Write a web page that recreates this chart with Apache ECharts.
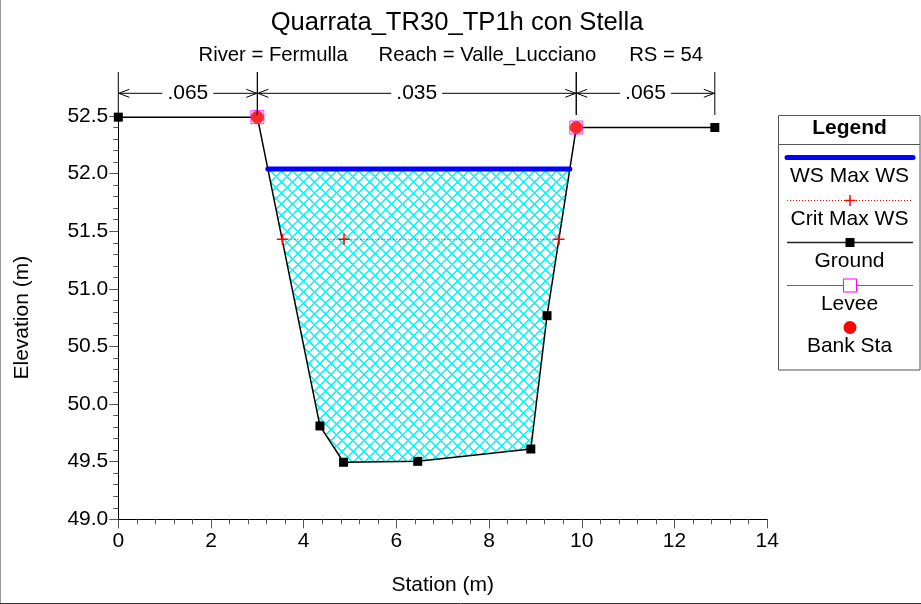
<!DOCTYPE html>
<html>
<head>
<meta charset="utf-8">
<script src="https://cdn.jsdelivr.net/npm/echarts@6/dist/echarts.min.js"></script>
<style>
html,body{margin:0;padding:0;background:#fff;}
#chart{width:921px;height:604px;}
</style>
</head>
<body>
<div id="chart"></div>
<script>
// ---- data ----
const groundStations = [0, 3.0, 4.35, 4.86, 6.46, 8.90, 9.25, 9.88, 12.87];
const groundElev     = [52.49, 52.49, 49.81, 49.495, 49.503, 49.61, 50.767, 52.40, 52.40];
const wsMax = 52.04;
const critMax = 51.43;
const critMarkStations = [3.54, 4.87, 9.51];
const leveeStations = [3.0, 9.88];
const leveeElev = [52.49, 52.40];
const bankStations = [3.0, 9.88];
const bankElev = [52.49, 52.40];
const nStations = [0, 3.0, 9.88, 12.87];
const nValues = ['.065', '.035', '.065'];
const xTicks = [0, 2, 4, 6, 8, 10, 12, 14];
const yTicks = [49.0, 49.5, 50.0, 50.5, 51.0, 51.5, 52.0, 52.5];

const FONT = '"Liberation Sans", Arial, Helvetica, sans-serif';

// crossings of the ground line with a water level
function crossings(level) {
  const xs = [];
  for (let i = 0; i < groundStations.length - 1; i++) {
    const e0 = groundElev[i], e1 = groundElev[i + 1];
    if ((e0 - level) * (e1 - level) < 0) {
      const t = (level - e0) / (e1 - e0);
      xs.push(groundStations[i] + t * (groundStations[i + 1] - groundStations[i]));
    }
  }
  return xs;
}
const wsX = crossings(wsMax);
const wsL = wsX[0], wsR = wsX[wsX.length - 1];
const fillPoly = [[wsL, wsMax]];
groundStations.forEach((s, i) => { if (s > wsL && s < wsR && groundElev[i] < wsMax) fillPoly.push([s, groundElev[i]]); });
fillPoly.push([wsR, wsMax]);

// crisp (aliased) cross-hatch pattern
const P = 11;
const pat = document.createElement('canvas');
pat.width = P; pat.height = P;
(function () {
  const c = pat.getContext('2d');
  const img = c.createImageData(P, P);
  for (let y = 0; y < P; y++) {
    for (let x = 0; x < P; x++) {
      const d1 = (x + y) % P;
      const d2 = ((x - y) % P + P) % P;
      const on = d1 < 2 || d2 < 2;
      const k = (y * P + x) * 4;
      img.data[k] = on ? 0 : 255;
      img.data[k + 1] = 255;
      img.data[k + 2] = 255;
      img.data[k + 3] = 255;
    }
  }
  c.putImageData(img, 0, 0);
})();

const measure = document.createElement('canvas').getContext('2d');
measure.font = '21px ' + FONT;

const chart = echarts.init(document.getElementById('chart'), null, {renderer: 'canvas'});

const yMaxAxis = yTicks[yTicks.length - 1];

const legendX0 = 778.5, legendX1 = 920, legendCx = 849.5;
function legText(t, y, bold) {
  return {type: 'text', x: legendCx, y: y, style: {text: t, font: (bold ? 'bold ' : '') + '21px ' + FONT, fill: '#000', align: 'center', verticalAlign: 'middle'}, z: 101};
}

const option = {
  animation: false,
  grid: {left: 118.3, right: 921 - 767.2, top: 116, bottom: 604 - 519.3},
  xAxis: {
    type: 'value', min: xTicks[0], max: xTicks[xTicks.length - 1], interval: 2,
    axisLine: {onZero: false, lineStyle: {color: '#000', width: 1}},
    axisTick: {length: 9, lineStyle: {color: '#555'}},
    minorTick: {show: true, splitNumber: 5, length: 5, lineStyle: {color: '#555'}},
    splitLine: {show: false}, minorSplitLine: {show: false},
    axisLabel: {fontSize: 21, color: '#000', margin: 11, fontFamily: FONT},
    name: 'Station (m)', nameLocation: 'middle', nameGap: 66,
    nameTextStyle: {fontSize: 21, color: '#000', fontFamily: FONT, verticalAlign: 'middle'}
  },
  yAxis: {
    type: 'value', min: yTicks[0], max: yMaxAxis, interval: 0.5,
    axisLine: {show: true, onZero: false, lineStyle: {color: '#000', width: 1}},
    axisTick: {show: true, length: 9, lineStyle: {color: '#555'}},
    minorTick: {show: true, splitNumber: 5, length: 5, lineStyle: {color: '#555'}},
    splitLine: {show: false}, minorSplitLine: {show: false},
    axisLabel: {fontSize: 21, color: '#000', margin: 10, fontFamily: FONT, formatter: v => v.toFixed(1)},
    name: 'Elevation (m)', nameLocation: 'middle', nameGap: 95.6,
    nameTextStyle: {fontSize: 21, color: '#000', fontFamily: FONT, verticalAlign: 'middle'}
  },
  graphic: [
    {type: 'line', shape: {x1: 0.5, y1: 0, x2: 0.5, y2: 604}, style: {stroke: '#999', lineWidth: 1}, z: 100},
    {type: 'line', shape: {x1: 0, y1: 603.5, x2: 921, y2: 603.5}, style: {stroke: '#333', lineWidth: 1}, z: 100},
    {type: 'text', x: 457, y: 23.3, style: {text: 'Quarrata_TR30_TP1h con Stella', font: '25.6px ' + FONT, fill: '#000', align: 'center', verticalAlign: 'middle'}, z: 100},
    {type: 'text', x: 198.5, y: 55.5, style: {text: 'River = Fermulla', font: '20.3px ' + FONT, fill: '#000', align: 'left', verticalAlign: 'middle'}, z: 100},
    {type: 'text', x: 378.5, y: 55.5, style: {text: 'Reach = Valle_Lucciano', font: '20.3px ' + FONT, fill: '#000', align: 'left', verticalAlign: 'middle'}, z: 100},
    {type: 'text', x: 703, y: 55.5, style: {text: 'RS = 54', font: '20.3px ' + FONT, fill: '#000', align: 'right', verticalAlign: 'middle'}, z: 100},
    // legend
    {type: 'rect', shape: {x: legendX0, y: 115.5, width: legendX1 - legendX0, height: 254.5}, style: {fill: '#fff', stroke: '#555', lineWidth: 1}, z: 100},
    {type: 'line', shape: {x1: legendX0, y1: 144.5, x2: legendX1, y2: 144.5}, style: {stroke: '#555', lineWidth: 1}, z: 101},
    legText('Legend', 128.5, true),
    {type: 'line', shape: {x1: 787, y1: 157.5, x2: 913, y2: 157.5}, style: {stroke: '#0000ff', lineWidth: 5, lineCap: 'round'}, z: 101},
    legText('WS Max WS', 176.5),
    {type: 'line', shape: {x1: 787, y1: 200.5, x2: 913, y2: 200.5}, style: {stroke: '#ff0000', lineWidth: 1, lineDash: [1, 2]}, z: 101},
    {type: 'line', shape: {x1: 844.5, y1: 200.5, x2: 855.5, y2: 200.5}, style: {stroke: '#ff0000', lineWidth: 1.5}, z: 102},
    {type: 'line', shape: {x1: 850, y1: 195, x2: 850, y2: 206}, style: {stroke: '#ff0000', lineWidth: 1.5}, z: 102},
    legText('Crit Max WS', 219.5),
    {type: 'line', shape: {x1: 787, y1: 242.5, x2: 913, y2: 242.5}, style: {stroke: '#222', lineWidth: 1.5}, z: 101},
    {type: 'rect', shape: {x: 845.5, y: 238, width: 9, height: 9}, style: {fill: '#000'}, z: 102},
    legText('Ground', 261.5),
    {type: 'line', shape: {x1: 787, y1: 285.5, x2: 913, y2: 285.5}, style: {stroke: '#ff00ff', lineWidth: 1}, z: 101},
    {type: 'rect', shape: {x: 843.5, y: 279, width: 13, height: 13}, style: {fill: '#fff', stroke: '#ff00ff', lineWidth: 1}, z: 102},
    legText('Levee', 304.5),
    {type: 'circle', shape: {cx: 850, cy: 327.5, r: 6.5}, style: {fill: '#ff0000'}, z: 101},
    legText('Bank Sta', 346)
  ],
  series: [
    {
      type: 'custom', z: 1, silent: true,
      data: [[wsL, wsMax]],
      renderItem: function (params, api) {
        const pts = fillPoly.map(p => api.coord(p));
        return {type: 'polygon', shape: {points: pts}, style: {fill: {image: pat, repeat: 'repeat'}, stroke: null}};
      }
    },
    {
      type: 'line', z: 3, clip: false, silent: true,
      data: groundStations.map((s, i) => [s, groundElev[i]]),
      symbol: 'rect', symbolSize: 9, showSymbol: true,
      itemStyle: {color: '#000'},
      lineStyle: {color: '#000', width: 1.5}
    },
    {
      type: 'line', z: 4, clip: false, silent: true,
      data: [[wsL, wsMax], [wsR, wsMax]],
      symbol: 'none',
      lineStyle: {color: '#0000ff', width: 5, cap: 'round'}
    },
    {
      type: 'line', z: 4, clip: false, silent: true,
      data: critMarkStations.map(s => [s, critMax]),
      symbol: 'path://M4.3,0H5.7V4.3H10V5.7H5.7V10H4.3V5.7H0V4.3H4.3Z', symbolSize: 11, showSymbol: true,
      itemStyle: {color: '#ff0000'},
      lineStyle: {color: '#ff0000', width: 1, type: [1, 2]}
    },
    {
      type: 'scatter', z: 5, clip: false, silent: true,
      data: leveeStations.map((s, i) => [s, leveeElev[i]]),
      symbol: 'rect', symbolSize: 13,
      itemStyle: {color: '#fff', borderColor: '#ff00ff', borderWidth: 1}
    },
    {
      type: 'scatter', z: 6, clip: false, silent: true,
      data: bankStations.map((s, i) => [s, bankElev[i]]),
      symbol: 'circle', symbolSize: 13,
      itemStyle: {color: '#ff0000'}
    },
    {
      type: 'custom', z: 7, clip: false, silent: true,
      data: nValues.map((v, i) => [nStations[i], nStations[i + 1]]),
      renderItem: function (params, api) {
        const i = params.dataIndex;
        const p0 = api.coord([nStations[i], yMaxAxis]);
        const p1 = api.coord([nStations[i + 1], yMaxAxis]);
        const y = p0[1] - 22.7;
        const yTop = p0[1] - 44, yBot = p0[1] - 1;
        const cx = (p0[0] + p1[0]) / 2;
        const tw = measure.measureText(nValues[i]).width;
        const ls = {stroke: '#000', lineWidth: 1, fill: null};
        return {
          type: 'group',
          children: [
            {type: 'line', shape: {x1: p0[0], y1: yTop, x2: p0[0], y2: yBot}, style: ls},
            {type: 'line', shape: {x1: p1[0], y1: yTop, x2: p1[0], y2: yBot}, style: ls},
            {type: 'line', shape: {x1: p0[0], y1: y, x2: cx - tw / 2 - 5, y2: y}, style: ls},
            {type: 'line', shape: {x1: cx + tw / 2 + 5, y1: y, x2: p1[0], y2: y}, style: ls},
            {type: 'polyline', shape: {points: [[p0[0] + 11, y - 4], [p0[0] + 0.5, y], [p0[0] + 11, y + 4]]}, style: ls},
            {type: 'polyline', shape: {points: [[p1[0] - 11, y - 4], [p1[0] - 0.5, y], [p1[0] - 11, y + 4]]}, style: ls},
            {type: 'text', x: cx, y: y, style: {text: nValues[i], font: '21px ' + FONT, fill: '#000', align: 'center', verticalAlign: 'middle'}}
          ]
        };
      }
    }
  ]
};
chart.setOption(option);
</script>
</body>
</html>
